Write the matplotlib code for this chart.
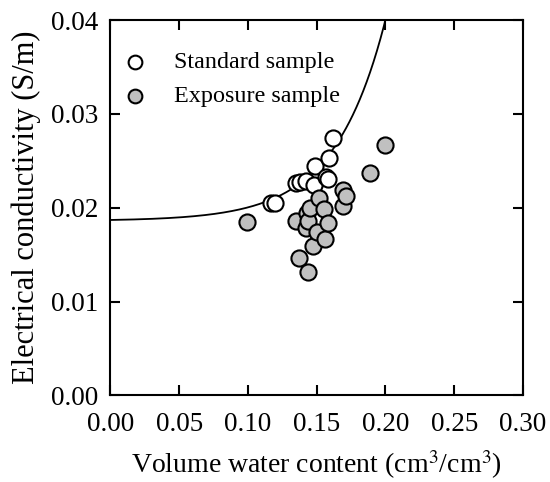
import numpy as np
import matplotlib
matplotlib.use("Agg")
import matplotlib.pyplot as plt

plt.rcParams['font.family'] = ['Liberation Serif', 'DejaVu Serif']
plt.rcParams['mathtext.fontset'] = 'stix'

# Standard sample measurements (volume water content, conductivity S/m)
std_theta = [0.117, 0.120, 0.135, 0.138, 0.142, 0.148, 0.149, 0.157, 0.158, 0.159, 0.162]
std_sigma = [0.0205, 0.0205, 0.0226, 0.0227, 0.0229, 0.0224, 0.0244, 0.0233, 0.0231, 0.0253, 0.0274]

# Exposure sample measurements
exp_theta = [0.099, 0.135, 0.137, 0.142, 0.143, 0.144, 0.144, 0.145, 0.147, 0.150,
             0.152, 0.155, 0.156, 0.158, 0.169, 0.169, 0.171, 0.189, 0.200]
exp_sigma = [0.0185, 0.0186, 0.0146, 0.0178, 0.0194, 0.0186, 0.0132, 0.0200, 0.0159, 0.0174,
             0.0210, 0.0199, 0.0167, 0.0184, 0.0219, 0.0202, 0.0212, 0.0237, 0.0267]

# Exponential fit of the standard samples: sigma = a + b * exp(c * theta)
fit_a = 0.01860
fit_b = 9.68e-5
fit_c = 27.0

x_ticks = [0.00, 0.05, 0.10, 0.15, 0.20, 0.25, 0.30]
y_ticks = [0.00, 0.01, 0.02, 0.03, 0.04]

fig = plt.figure(figsize=(5.5, 4.82), dpi=100)
ax = fig.add_axes([0.2009, 0.1795, 0.7500, 0.7790])

theta = np.linspace(0.0, 0.30, 600)
sigma = fit_a + fit_b * np.exp(fit_c * theta)
ax.plot(theta, sigma, color='black', lw=1.3, zorder=2)

ax.scatter(std_theta, std_sigma, s=135, facecolor='white', edgecolor='black',
           linewidth=1.5, zorder=3, label='Standard sample')
ax.scatter(exp_theta, exp_sigma, s=135, facecolor='#c0c0c0', edgecolor='black',
           linewidth=1.5, zorder=4, label='Exposure sample')

ax.set_xlim(0.0, 0.30)
ax.set_ylim(0.0, 0.04)
ax.set_xticks(x_ticks)
ax.set_yticks(y_ticks)
ax.set_xticklabels([f"{v:.2f}" for v in x_ticks])
ax.set_yticklabels([f"{v:.2f}" for v in y_ticks])

ax.tick_params(direction='in', length=7, width=1.5, top=True, right=True,
               labelsize=19.5)
ax.tick_params(axis='x', pad=12)
ax.tick_params(axis='y', pad=9)
for sp in ax.spines.values():
    sp.set_linewidth(1.5)

ax.set_xlabel(r"Volume water content (cm$^3$/cm$^3$)", fontsize=20, labelpad=8)
ax.set_ylabel("Electrical conductivity (S/m)", fontsize=22, labelpad=7)

leg = ax.legend(loc='upper left', bbox_to_anchor=(0.029, 0.916), frameon=False,
                fontsize=17.4, markerscale=0.85, handlelength=1.0,
                handletextpad=1.15, borderaxespad=0.0, borderpad=0.0,
                labelspacing=0.5)

fig.savefig("out.png", dpi=100)
